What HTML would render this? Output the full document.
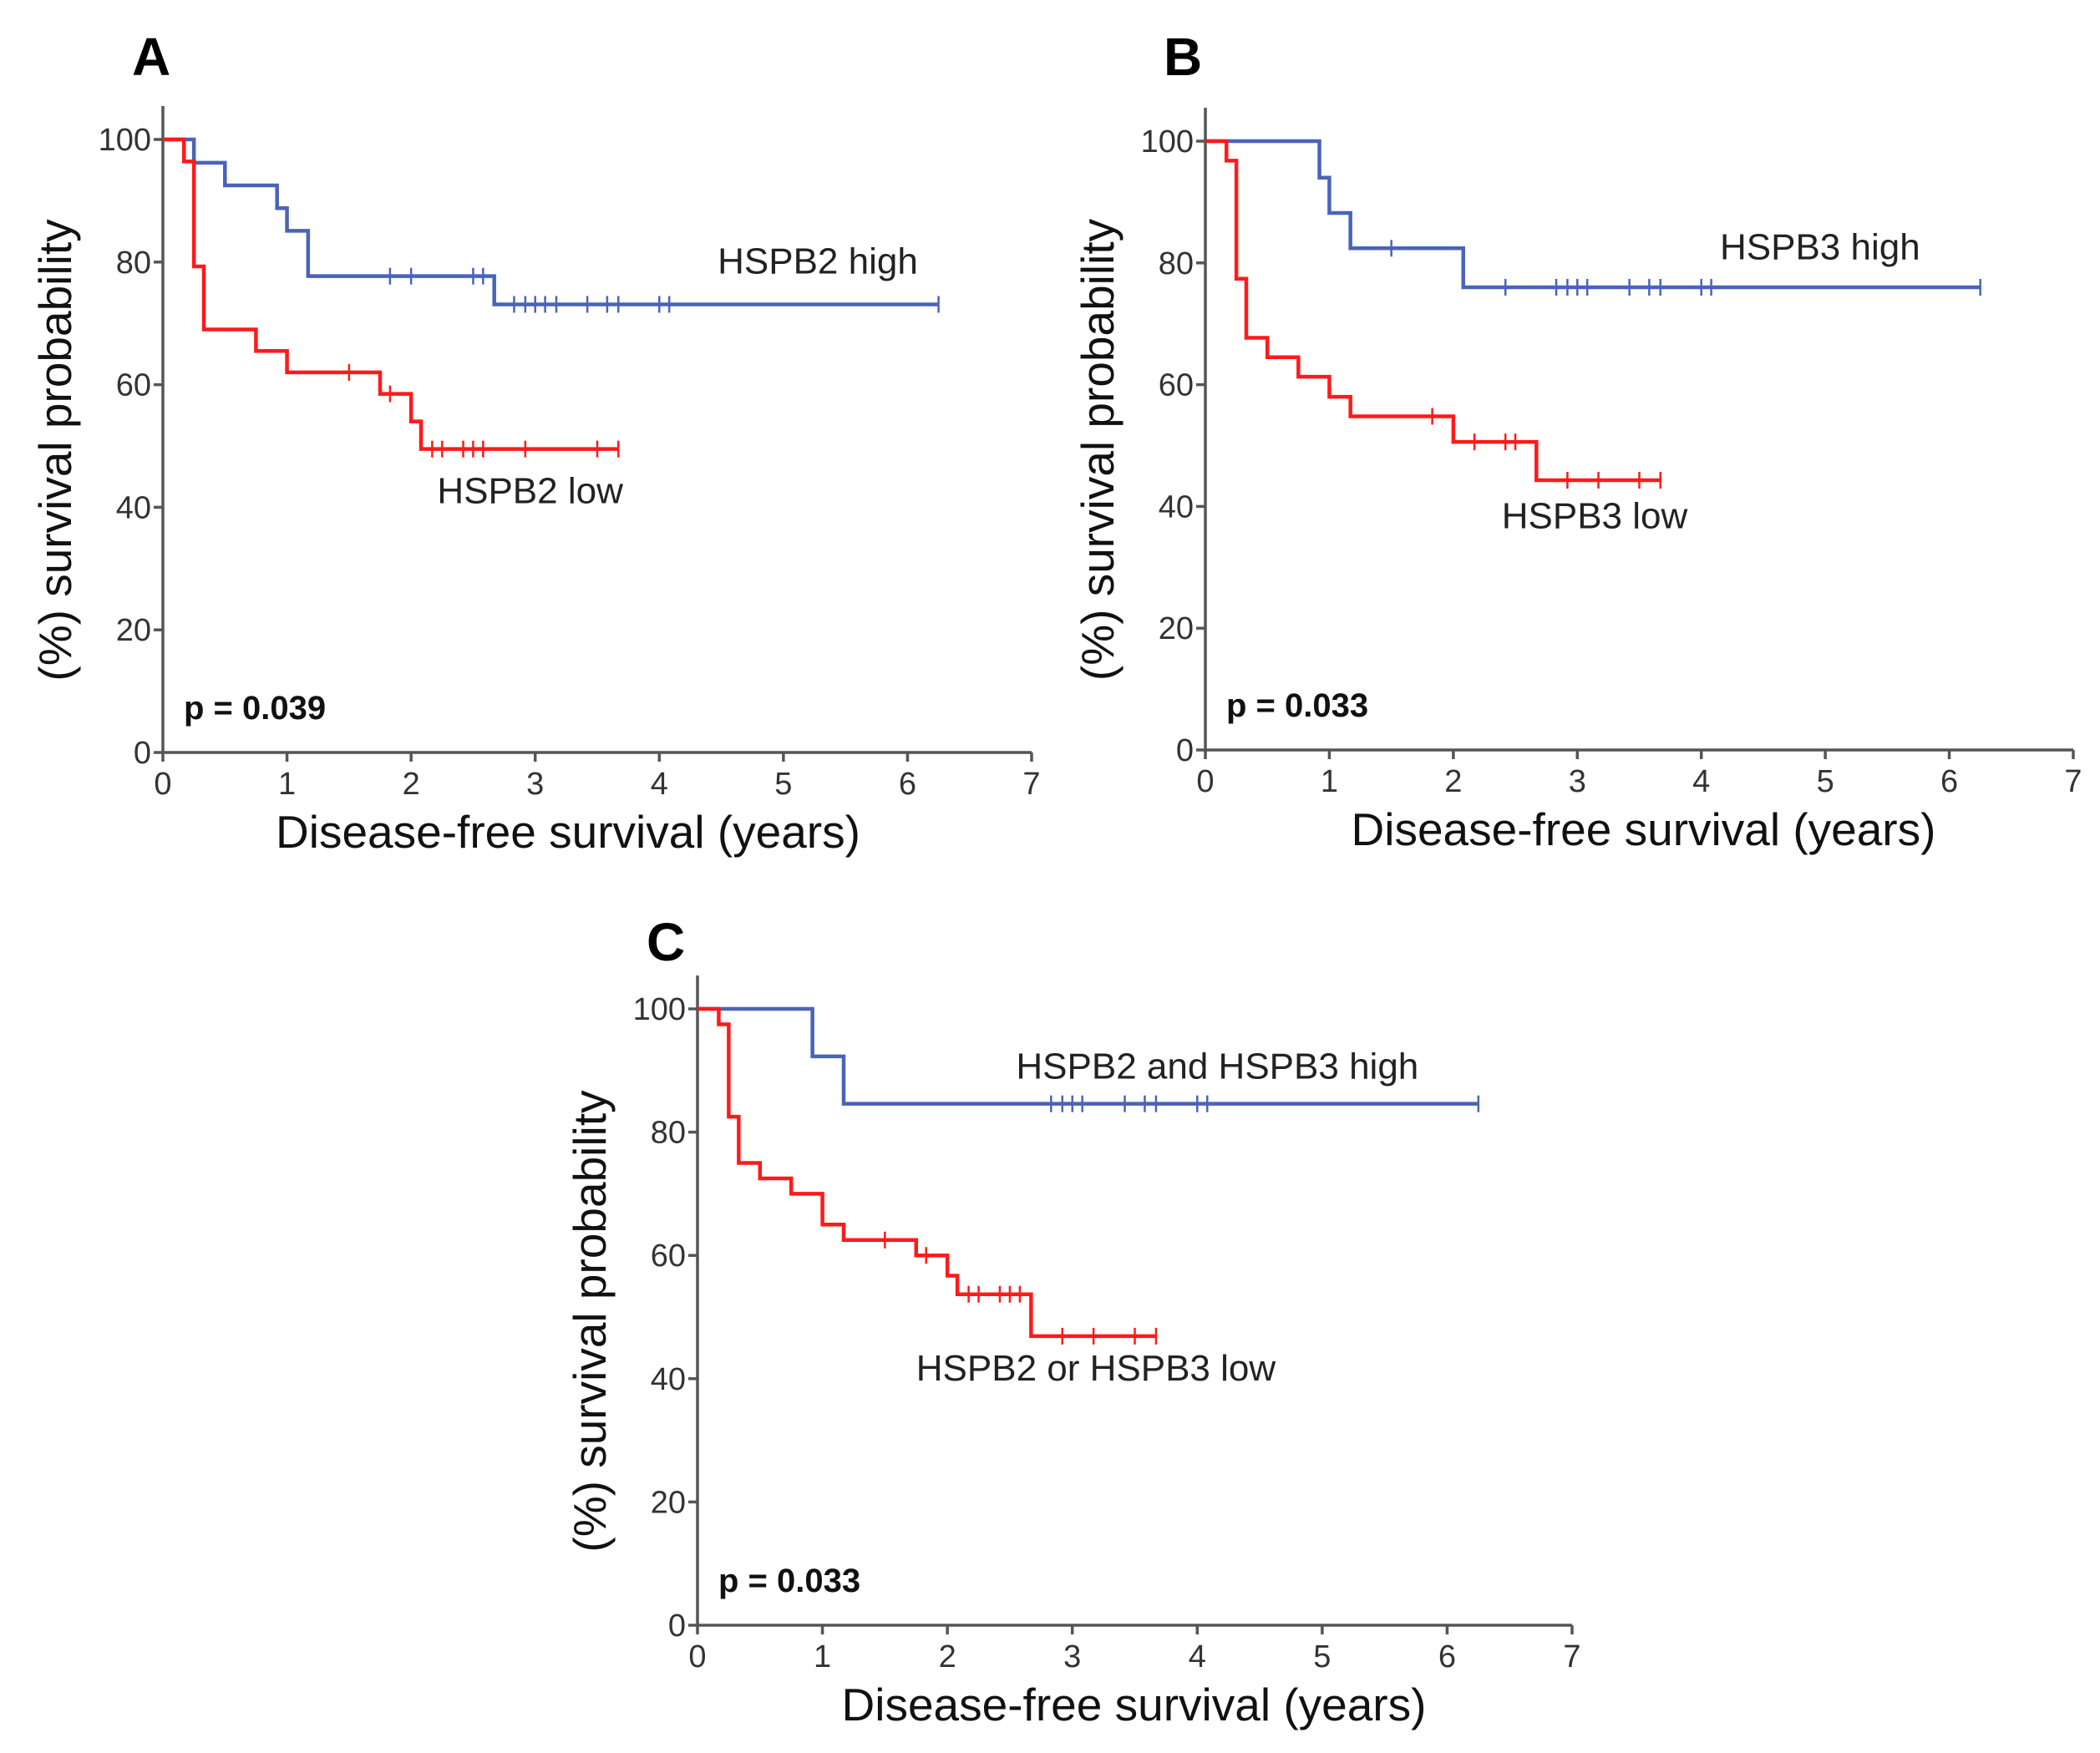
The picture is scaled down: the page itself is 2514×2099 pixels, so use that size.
<!DOCTYPE html>
<html><head><meta charset="utf-8"><style>
html,body{margin:0;padding:0;background:#fff;}
svg{display:block;font-family:"Liberation Sans",Arial,sans-serif;}
</style></head><body>
<svg id="fig" width="2514" height="2099" viewBox="0 0 2514 2099" xmlns="http://www.w3.org/2000/svg"></svg>
<script>
const xTicks = [0,1,2,3,4,5,6,7];
const yTicks = [0,20,40,60,80,100];
// Panel A
const aHighT = [0.25,0.5,0.92,1.0,1.17,2.67];
const aHighS = [96.2,92.5,88.8,85.1,77.7,73.1];
const aHighCens = [1.83,2.0,2.5,2.58,2.83,2.92,3.0,3.08,3.17,3.42,3.58,3.67,4.0,4.08,6.25];
const aHighEnd = 6.25;
const aLowT = [0.17,0.25,0.33,0.75,1.0,1.75,2.0,2.08];
const aLowS = [96.4,79.3,69.0,65.5,62.0,58.5,54.0,49.5];
const aLowCens = [1.5,1.83,2.17,2.25,2.42,2.5,2.58,2.92,3.5,3.67];
const aLowEnd = 3.67;
// Panel B
const bHighT = [0.92,1.0,1.17,2.08];
const bHighS = [94.0,88.2,82.4,76.0];
const bHighCens = [1.5,2.42,2.83,2.92,3.0,3.08,3.42,3.58,3.67,4.0,4.08,6.25];
const bHighEnd = 6.25;
const bLowT = [0.17,0.25,0.33,0.5,0.75,1.0,1.17,2.0,2.67];
const bLowS = [96.8,77.4,67.7,64.5,61.3,58.0,54.8,50.6,44.3];
const bLowCens = [1.83,2.17,2.42,2.5,2.92,3.17,3.5,3.67];
const bLowEnd = 3.67;
// Panel C
const cHighT = [0.92,1.17];
const cHighS = [92.3,84.6];
const cHighCens = [2.83,2.92,3.0,3.08,3.42,3.58,3.67,4.0,4.08,6.25];
const cHighEnd = 6.25;
const cLowT = [0.17,0.25,0.33,0.5,0.75,1.0,1.17,1.75,2.0,2.08,2.67];
const cLowS = [97.5,82.5,75.0,72.5,70.0,65.0,62.5,60.0,56.7,53.7,46.9];
const cLowCens = [1.5,1.83,2.17,2.25,2.42,2.5,2.58,2.92,3.17,3.5,3.67];
const cLowEnd = 3.67;

const NS="http://www.w3.org/2000/svg";
const fig=document.getElementById('fig');
function mk(tag,attrs,parent){const e=document.createElementNS(NS,tag);for(const k in attrs)e.setAttribute(k,attrs[k]);parent.appendChild(e);return e;}

function panel(id,L,letterPos,P,series,labels,pval,titleShift){
  const g=mk('g',{},fig);
  
  
  const sx=v=>P.x0+(P.x7-P.x0)*v/7;
  const sy=v=>P.y0+(P.y100-P.y0)*v/100;
  const lt=mk('text',{x:letterPos[0],y:letterPos[1],'font-size':64,'font-weight':'bold',fill:'#000'},g);
  lt.textContent=L;
  
  
  const ax=mk('path',{d:`M${P.x0},${sy(100)-40} V${P.y0} H${P.x7}`,stroke:'#555',fill:'none','stroke-width':3.5},g);
  
  
  xTicks.forEach(t=>{
    mk('line',{x1:sx(t),x2:sx(t),y1:P.y0,y2:P.y0+11,stroke:'#555','stroke-width':3.5},g);
    const tx=mk('text',{x:sx(t),y:P.y0+50,'font-size':38,'text-anchor':'middle',fill:'#333'},g);
    tx.textContent=t;
    
    
  });
  yTicks.forEach(t=>{
    mk('line',{x1:P.x0-11,x2:P.x0,y1:sy(t),y2:sy(t),stroke:'#555','stroke-width':3.5},g);
    const ty=mk('text',{x:P.x0-14,y:sy(t)+13,'font-size':38,'text-anchor':'end',fill:'#333'},g);
    ty.textContent=t;
    
    
  });
  const xt=mk('text',{x:(P.x0+P.x7)/2+5+titleShift,y:P.y0+114,'font-size':55,'text-anchor':'middle',fill:'#111'},g);
  xt.textContent='Disease-free survival (years)';
  
  
  const yc=(P.y0+P.y100)/2+5;
  const yt=mk('text',{x:0,y:0,'font-size':55,'text-anchor':'middle',fill:'#111',transform:`translate(${P.x0-110},${yc}) rotate(-90)`},g);
  yt.textContent='(%) survival probability';
  
  
  const pv=mk('text',{x:P.x0+25,y:P.y0-40,'font-size':40,'font-weight':'bold',fill:'#111'},g);
  pv.textContent=pval;
  
  
  series.forEach(s=>{
    let d=`M${sx(0)},${sy(100)}`;
    s.T.forEach((t,i)=>{d+=` H${sx(t)} V${sy(s.S[i])}`;});
    d+=` H${sx(s.end)}`;
    const p=mk('path',{d,stroke:s.color,fill:'none','stroke-width':4.5},g);
    
    
    s.C.forEach(c=>{
      let v=100;s.T.forEach((t,i)=>{if(t<=c)v=s.S[i];});
      const m=mk('line',{x1:sx(c),x2:sx(c),y1:sy(v)-10,y2:sy(v)+10,stroke:s.color,'stroke-width':2.5},g);
      
      
    });
  });
  labels.forEach(l=>{
    const t=mk('text',{x:sx(l.x),y:sy(l.y),'font-size':44,fill:'#222'},g);
    t.textContent=l.text;
    
    
  });
}
const BLUE='#4a63b9',RED='#ff1a1a';
panel('a','A',[158,90],{x0:195,x7:1235,y0:901,y100:167},
 [{T:aHighT,S:aHighS,C:aHighCens,end:aHighEnd,color:BLUE,name:'hspb2-high-curve'},
  {T:aLowT,S:aLowS,C:aLowCens,end:aLowEnd,color:RED,name:'hspb2-low-curve'}],
 [{x:4.47,y:78.1,text:'HSPB2 high'},{x:2.21,y:40.7,text:'HSPB2 low'}],'p = 0.039',-40);
panel('b','B',[1393,90],{x0:1443,x7:2482,y0:898,y100:169},
 [{T:bHighT,S:bHighS,C:bHighCens,end:bHighEnd,color:BLUE,name:'hspb3-high-curve'},
  {T:bLowT,S:bLowS,C:bLowCens,end:bLowEnd,color:RED,name:'hspb3-low-curve'}],
 [{x:4.15,y:80.6,text:'HSPB3 high'},{x:2.39,y:36.4,text:'HSPB3 low'}],'p = 0.033',0);
panel('c','C',[774,1150],{x0:835,x7:1882,y0:1946,y100:1208},
 [{T:cHighT,S:cHighS,C:cHighCens,end:cHighEnd,color:BLUE,name:'combined-high-curve'},
  {T:cLowT,S:cLowS,C:cLowCens,end:cLowEnd,color:RED,name:'combined-low-curve'}],
 [{x:2.55,y:88.7,text:'HSPB2 and HSPB3 high'},{x:1.75,y:39.7,text:'HSPB2 or HSPB3 low'}],'p = 0.033',-6);
</script>
</body></html>
